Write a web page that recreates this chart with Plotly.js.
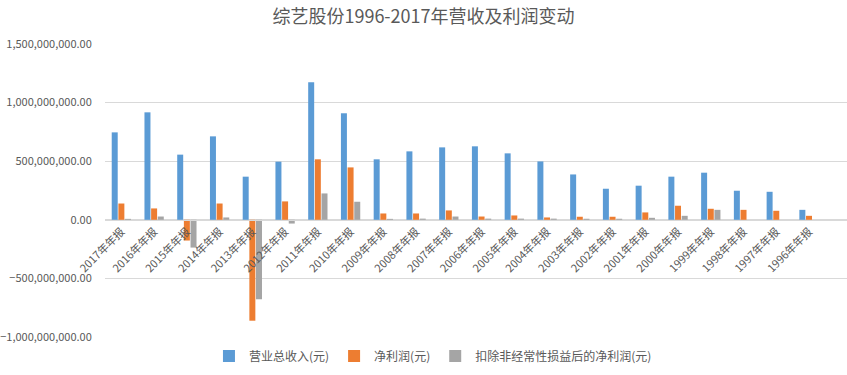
<!DOCTYPE html>
<html>
<head>
<meta charset="utf-8">
<script src="https://cdn.plot.ly/plotly-3.0.1.min.js"></script>
<style>html,body{margin:0;padding:0;background:#fff;}#chart{width:847px;height:375px;}</style>
</head>
<body>
<div id="chart"></div>
<script>
const categories = ["2017年年报","2016年年报","2015年年报","2014年年报","2013年年报","2012年年报","2011年年报","2010年年报","2009年年报","2008年年报","2007年年报","2006年年报","2005年年报","2004年年报","2003年年报","2002年年报","2001年年报","2000年年报","1999年年报","1998年年报","1997年年报","1996年年报"];
const revenue = [746e6, 917e6, 556e6, 712e6, 368e6, 496e6, 1174e6, 909e6, 516e6, 584e6, 618e6, 627e6, 567e6, 498e6, 387e6, 265e6, 291e6, 368e6, 402e6, 248e6, 239e6, 85e6];
const netProfit = [139e6, 97e6, -177e6, 139e6, -861e6, 157e6, 516e6, 447e6, 54e6, 54e6, 80e6, 28e6, 37e6, 20e6, 26e6, 26e6, 63e6, 120e6, 94e6, 85e6, 77e6, 34e6];
const netProfitExcl = [8e6, 28e6, -237e6, 20e6, -678e6, -32e6, 225e6, 154e6, 8e6, 10e6, 28e6, 10e6, 10e6, 10e6, 9e6, 9e6, 17e6, 34e6, 85e6, 0, 0, 0];
const seriesNames = ["营业总收入(元)", "净利润(元)", "扣除非经常性损益后的净利润(元)"];
const colors = ["#5B9BD5", "#ED7D31", "#A5A5A5"];

const font = "'Noto Sans CJK SC', 'Noto Sans', sans-serif";
const traces = [revenue, netProfit, netProfitExcl].map((v, i) => ({
  type: 'bar', x: categories, y: v, name: seriesNames[i],
  marker: {color: colors[i]}, hoverinfo: 'x+y+name'
}));

const layout = {
  width: 847, height: 375,
  margin: {l: 105, r: 0, t: 44, b: 38},
  paper_bgcolor: '#fff', plot_bgcolor: '#fff',
  font: {family: font, color: '#595959', size: 11},
  title: {text: '综艺股份1996-2017年营收及利润变动', x: 0.5, xanchor: 'center', y: 0.955, yanchor: 'middle',
          font: {family: font, size: 18, color: '#595959'}},
  barmode: 'group', bargap: 0.39, bargroupgap: 0.1,
  xaxis: {type: 'category', anchor: 'free', position: 0.4, range: [-0.5, 22.16],
          tickangle: -45, showgrid: false, showline: true, linecolor: '#d9d9d9', linewidth: 1,
          ticks: '', tickfont: {family: font, size: 11, color: '#595959'}, fixedrange: true},
  yaxis: {range: [-1e9, 1.5e9], dtick: 5e8, tick0: 0, tickformat: ',.2f',
          showgrid: true, gridcolor: '#d9d9d9', gridwidth: 1, zeroline: false, showline: false,
          ticks: 'outside', ticklen: 10, tickcolor: 'rgba(0,0,0,0)',
          tickfont: {family: font, size: 11, color: '#595959'}},
  showlegend: true,
  legend: {orientation: 'h', x: 0.442, xanchor: 'center', y: -0.065, yanchor: 'middle',
           font: {family: font, size: 12, color: '#595959'}, itemwidth: 30, traceorder: 'normal'}
};
Plotly.newPlot('chart', traces, layout, {displayModeBar: false, staticPlot: true});
</script>
</body>
</html>
